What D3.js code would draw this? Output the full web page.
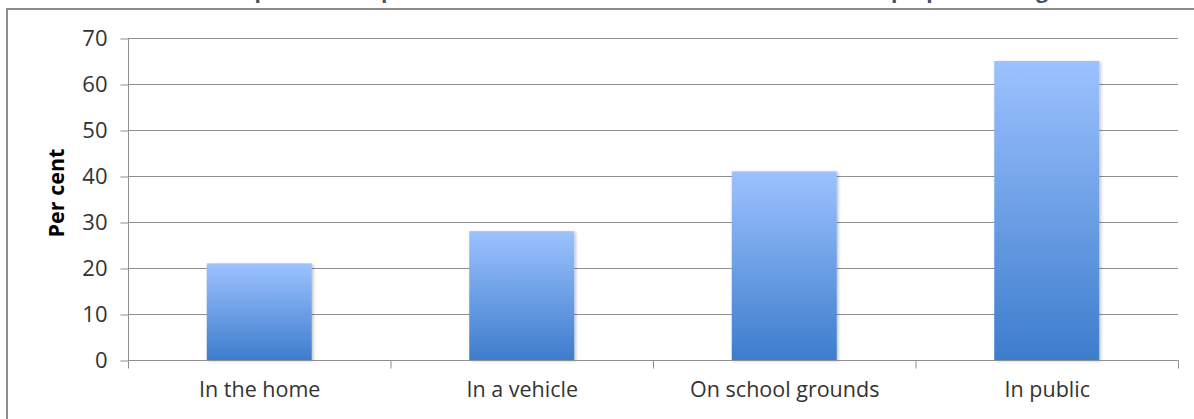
<!DOCTYPE html>
<html><head><meta charset="utf-8">
<script src="https://cdn.jsdelivr.net/npm/d3@7"></script>
<style>body{margin:0;background:#fff;overflow:hidden}svg{display:block}</style>
</head><body>
<svg id="c" width="1194" height="419"></svg>
<script>
const categories = ["In the home", "In a vehicle", "On school grounds", "In public"];
const values = [21, 28, 41, 65];
const yTicks = [0, 10, 20, 30, 40, 50, 60, 70];
const yLabel = "Per cent";
const title = "Places where respondents reported that the most recent incident of violence perpetrated against them occurred, %";

const svg = d3.select("#c");
const font = "'Open Sans', sans-serif";
const x0 = 128, x1 = 1178, yTop = 38, yBot = 360;

const defs = svg.append("defs");
const g = defs.append("linearGradient").attr("id","bg").attr("x1",0).attr("y1",0).attr("x2",0).attr("y2",1);
g.append("stop").attr("offset","0%").attr("stop-color","#9CC2FF");
g.append("stop").attr("offset","100%").attr("stop-color","#3D7DCC");
const f = defs.append("filter").attr("id","sh").attr("x","-10%").attr("y","-10%").attr("width","130%").attr("height","130%");
f.append("feDropShadow").attr("dx",1.5).attr("dy",1).attr("stdDeviation",1.5).attr("flood-color","#000").attr("flood-opacity",0.25);

// title (cut off at top, as in the reference)
svg.append("text").attr("x", 685).attr("y", -2).attr("text-anchor","middle")
  .attr("font-family", font).attr("font-weight","bold").attr("font-size",21)
  .attr("fill","#44546A").text(title);

// frame
svg.append("rect").attr("x",7).attr("y",9).attr("width",1200).attr("height",420)
  .attr("fill","#fff").attr("stroke","#8c8c8c").attr("stroke-width",2);

const x = d3.scaleBand().domain(categories).range([x0, x1]).paddingInner(0).paddingOuter(0);
const y = d3.scaleLinear().domain([0, 70]).range([yBot, yTop]);

// gridlines
svg.append("g").selectAll("line").data(yTicks.filter(d=>d>0)).join("line")
  .attr("x1", x0).attr("x2", x1).attr("y1", d=>Math.round(y(d))+0.5).attr("y2", d=>Math.round(y(d))+0.5)
  .attr("stroke","#8f8f8f").attr("stroke-width",1);

// y axis
const ya = svg.append("g").attr("transform",`translate(${x0+0.5},0.5)`)
  .call(d3.axisLeft(y).tickValues(yTicks).tickSize(8).tickPadding(13).tickFormat(d3.format("d")));
ya.select(".domain").attr("stroke","#8f8f8f").attr("d", `M0,${yTop}V${yBot}`);
ya.selectAll(".tick line").attr("stroke","#8f8f8f");
ya.selectAll(".tick text").attr("font-family",font).attr("font-size",22).attr("fill","#333");

// bars
const bw = x.bandwidth()*0.4;
svg.append("g").selectAll("rect").data(values).join("rect")
  .attr("x",(d,i)=>x(categories[i]) + (x.bandwidth()-bw)/2)
  .attr("width",bw)
  .attr("y",d=>y(d)).attr("height",d=>yBot - y(d))
  .attr("fill","url(#bg)").attr("filter","url(#sh)");

// x axis
const xa = svg.append("g").attr("transform",`translate(0.5,${yBot+0.5})`)
  .call(d3.axisBottom(x).tickSize(0).tickPadding(21));
xa.select(".domain").attr("stroke","#8f8f8f").attr("d",`M${x0},0H${x1}`);
xa.selectAll(".tick text").attr("font-family",font).attr("font-size",21.5).attr("fill","#333");
const bounds = [x0, ...categories.map(c=>x(c)+x.bandwidth())];
xa.append("g").selectAll("line").data(bounds).join("line")
  .attr("x1",d=>d).attr("x2",d=>d).attr("y1",0).attr("y2",8).attr("stroke","#8f8f8f");

// y label
svg.append("text").attr("transform",`translate(64,${(yTop+yBot)/2 - 6}) rotate(-90)`)
  .attr("text-anchor","middle").attr("font-family",font).attr("font-weight","bold")
  .attr("font-size",21.5).attr("fill","#000").text(yLabel);
</script>
</body></html>
